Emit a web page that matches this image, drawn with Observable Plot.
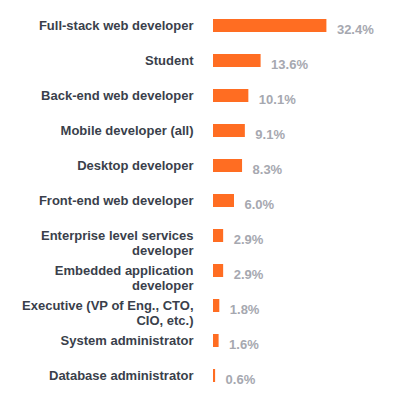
<!DOCTYPE html>
<html>
<head>
<meta charset="utf-8">
<script src="https://cdn.jsdelivr.net/npm/d3@7"></script>
<script src="https://cdn.jsdelivr.net/npm/@observablehq/plot@0.6"></script>
<style>
  html, body { margin: 0; padding: 0; background: #fff; }
  #chart svg { display: block; }
</style>
</head>
<body>
<div id="chart"></div>
<script>
const categories = [
  "Full-stack web developer",
  "Student",
  "Back-end web developer",
  "Mobile developer (all)",
  "Desktop developer",
  "Front-end web developer",
  "Enterprise level services\ndeveloper",
  "Embedded application\ndeveloper",
  "Executive (VP of Eng., CTO,\nCIO, etc.)",
  "System administrator",
  "Database administrator"
];
const values = [32.4, 13.6, 10.1, 9.1, 8.3, 6.0, 2.9, 2.9, 1.8, 1.6, 0.6];
const valueLabels = ["32.4%", "13.6%", "10.1%", "9.1%", "8.3%", "6.0%", "2.9%", "2.9%", "1.8%", "1.6%", "0.6%"];

const data = categories.map((c, i) => ({ category: c, value: values[i], label: valueLabels[i] }));

const font = "Liberation Sans, Arial, Helvetica, sans-serif";

const chart = Plot.plot({
  width: 394,
  height: 401,
  marginLeft: 213,
  marginRight: 41,
  marginTop: 8,
  marginBottom: 8,
  style: { fontFamily: font, background: "#fff" },
  x: { domain: [0, 40], axis: null },
  y: { domain: categories, paddingInner: 0.64, paddingOuter: 0.32, axis: null },
  marks: [
    Plot.barX(data, { x: "value", y: "category", fill: "#ff6d22" }),
    Plot.text(data, {
      x: 0, y: "category", text: "category",
      textAnchor: "end", dx: -20, lineAnchor: "top", dy: -6.4, lineHeight: 1.15,
      fontSize: 13, fontWeight: "bold", fill: "#3a3f4b", fontFamily: font
    }),
    Plot.text(data, {
      x: "value", y: "category", text: "label",
      textAnchor: "start", dx: 10, dy: 4,
      fontSize: 13, fontWeight: "bold", fill: "#a6a8b0", fontFamily: font
    })
  ]
});
document.getElementById("chart").appendChild(chart);
</script>
</body>
</html>
